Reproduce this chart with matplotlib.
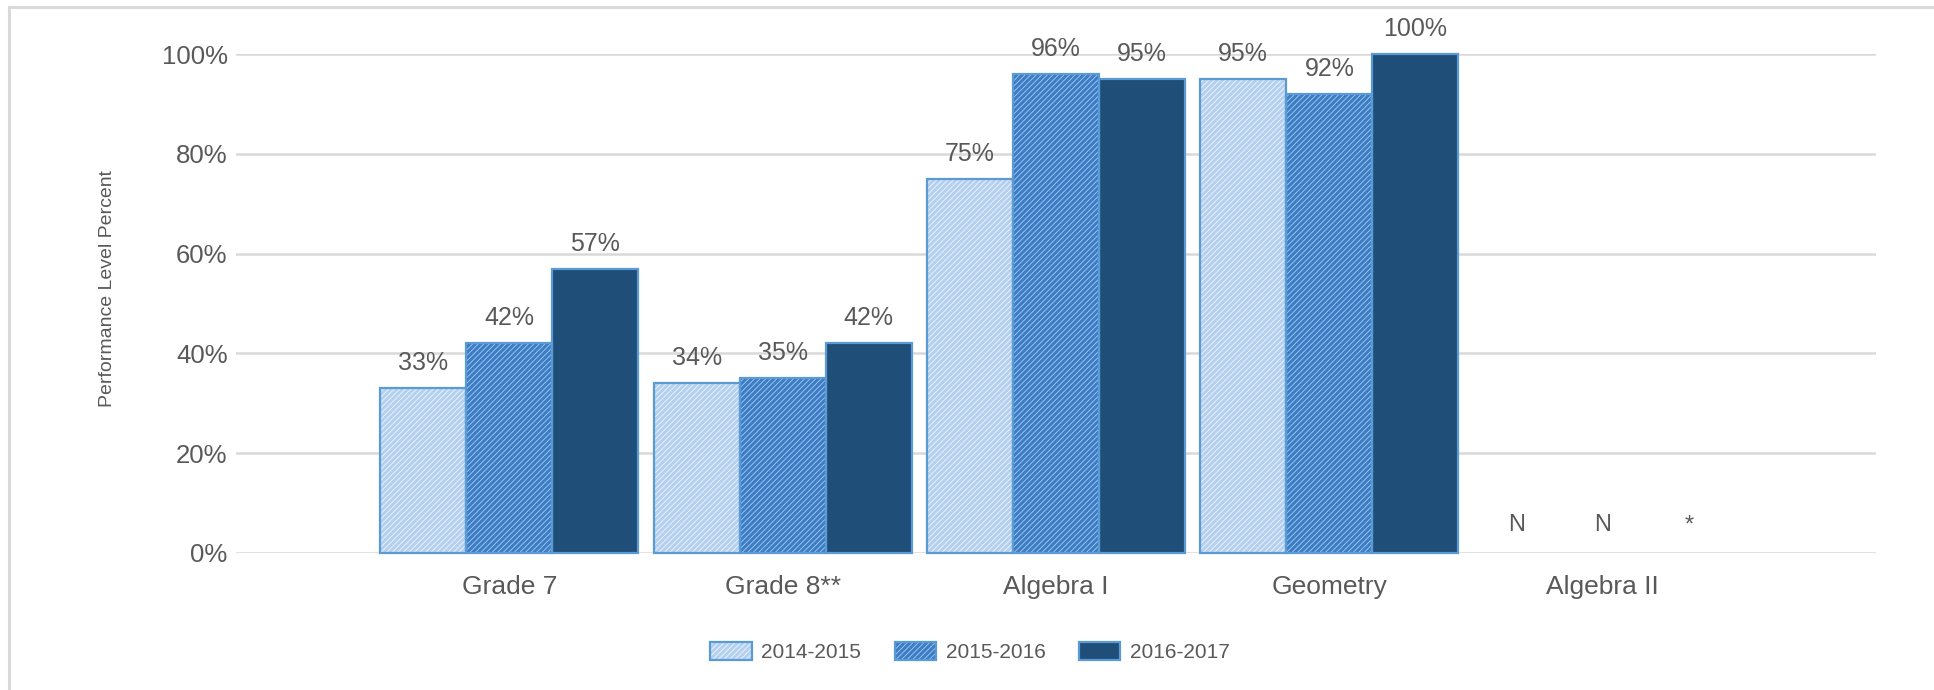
import numpy as np
import matplotlib
matplotlib.use("Agg")
import matplotlib.pyplot as plt
from matplotlib.patches import Patch
from matplotlib.lines import Line2D
from matplotlib.legend_handler import HandlerTuple

plt.rcParams['font.family'] = ['Liberation Sans', 'DejaVu Sans']
plt.rcParams['hatch.linewidth'] = 0.7

# data
categories = ["Grade 7", "Grade 8**", "Algebra I", "Geometry", "Algebra II"]
years = ["2014-2015", "2015-2016", "2016-2017"]
v2015 = [33, 34, 75, 95, None]
v2016 = [42, 35, 96, 92, None]
v2017 = [57, 42, 95, 100, None]
missing = ["N", "N", "*"]   # Algebra II labels

series = [v2015, v2016, v2017]
faces = ['#b4d0ee', '#3b7cc7', '#1f4e79']
hatch_cols = ['#e8f1fb', '#9dc3e6', '#1f4e79']
hatches = ['//////', '//////', None]
outline = '#5b9bd5'
txt = '#595959'

fig = plt.figure(figsize=(19.34, 6.9), dpi=100)
ax = fig.add_axes([236/1934, 1-553/690, 1640/1934, 499/690])

x = np.arange(len(categories))
w = 0.315
handles = []
for k, vals in enumerate(series):
    pos = x + (k - 1) * w
    h = [v if v is not None else 0 for v in vals]
    keep = [v is not None for v in vals]
    px = pos[keep]
    hv = np.array(h)[keep]
    ax.bar(px, hv, w, color=faces[k], edgecolor=hatch_cols[k], linewidth=0,
           hatch=hatches[k], zorder=2, clip_on=False)
    ax.bar(px, hv, w, fill=False, edgecolor=outline, linewidth=1.6,
           zorder=3, clip_on=False)
    for xx, v in zip(px, hv):
        ax.annotate(f"{v:.0f}%", (xx, v), xytext=(0, 18), textcoords='offset points',
                    ha='center', va='center', fontsize=18, color=txt)
    # Algebra II markers
    ax.annotate(missing[k], (pos[-1], 0), xytext=(0, 20), textcoords='offset points',
                ha='center', va='center', fontsize=17, color=txt)
    handles.append((Patch(facecolor=faces[k], edgecolor=hatch_cols[k], linewidth=0, hatch=hatches[k]),
                    Patch(fill=False, edgecolor=outline, linewidth=1.6)))

ax.set_xlim(-1, 5)
ax.set_ylim(0, 100)
ax.set_xticks(x)
ax.set_xticklabels(categories)
ax.set_yticks(np.arange(0, 101, 20))
ax.set_yticklabels([f"{t}%" for t in range(0, 101, 20)])
ax.tick_params(axis='x', length=0, pad=16, labelsize=19, labelcolor=txt)
ax.tick_params(axis='y', length=0, pad=6, labelsize=18.5, labelcolor=txt)
ax.yaxis.grid(True, color='#d9d9d9', linewidth=1.8, zorder=0)
ax.set_axisbelow(True)
for s in ax.spines.values():
    s.set_visible(False)

fig.text(108/1934, 1-289/690, "Performance Level Percent", rotation=90,
         ha='center', va='center', fontsize=14, color=txt)

fig.legend(handles, years, handler_map={tuple: HandlerTuple(ndivide=1, pad=0)},
           loc='center', bbox_to_anchor=(970/1934, 1-652/690), ncol=3,
           frameon=False, fontsize=15, labelcolor=txt, handlelength=2.0,
           handleheight=1.0, handletextpad=0.45, columnspacing=1.6)

# light frame around the picture
fig.add_artist(Line2D([9/1934, 9/1934], [0, 1-7/690], color='#d9d9d9', linewidth=2.2))
fig.add_artist(Line2D([9/1934, 1], [1-7/690, 1-7/690], color='#d9d9d9', linewidth=2.2))

fig.savefig("out.png", dpi=100)
